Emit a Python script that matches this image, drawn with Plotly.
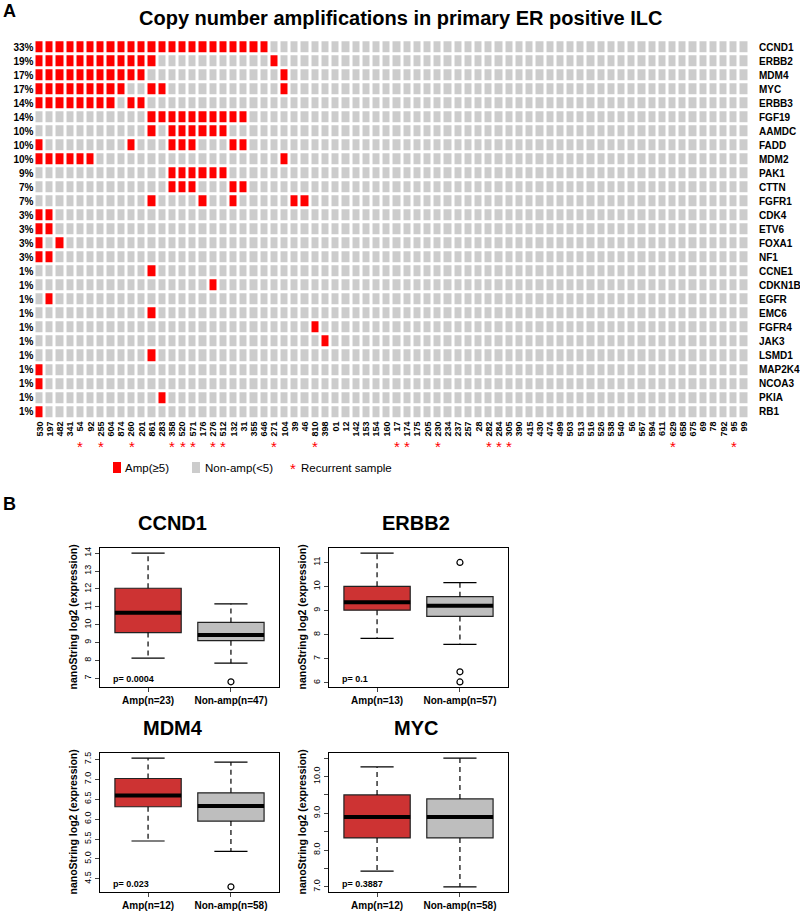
import plotly.graph_objects as go

W, H = 800, 916

# ---------------- data: panel A ----------------
genes = ["CCND1", "ERBB2", "MDM4", "MYC", "ERBB3", "FGF19", "AAMDC", "FADD", "MDM2",
         "PAK1", "CTTN", "FGFR1", "CDK4", "ETV6", "FOXA1", "NF1", "CCNE1", "CDKN1B",
         "EGFR", "EMC6", "FGFR4", "JAK3", "LSMD1", "MAP2K4", "NCOA3", "PKIA", "RB1"]
pct_labels = ["33%", "19%", "17%", "17%", "14%", "14%", "10%", "10%", "10%", "9%", "7%",
              "7%", "3%", "3%", "3%", "3%", "1%", "1%", "1%", "1%", "1%", "1%", "1%",
              "1%", "1%", "1%", "1%"]
samples = ["530", "197", "482", "341", "54", "92", "255", "604", "874", "260", "201", "861",
           "283", "358", "520", "571", "176", "276", "512", "132", "31", "355", "646", "271",
           "104", "39", "46", "810", "398", "01", "12", "142", "153", "154", "160", "17",
           "174", "175", "205", "230", "234", "237", "257", "28", "282", "284", "305", "390",
           "415", "430", "474", "499", "503", "513", "516", "526", "538", "540", "56", "567",
           "594", "611", "629", "658", "675", "69", "78", "792", "95", "99"]
recurrent = ["54", "255", "260", "358", "520", "571", "276", "512", "271", "810", "17",
             "174", "230", "282", "284", "305", "629", "95"]
amplified = [
    ["530", "197", "482", "341", "54", "92", "255", "604", "874", "260", "201", "861", "283",
     "358", "520", "571", "176", "276", "512", "132", "31", "355", "646"],          # CCND1
    ["530", "197", "482", "341", "54", "92", "255", "604", "874", "260", "201", "861", "271"],
    ["530", "197", "482", "341", "54", "92", "255", "604", "874", "260", "201", "104"],
    ["530", "197", "482", "341", "54", "92", "255", "604", "874", "861", "283", "104"],
    ["530", "197", "482", "341", "54", "92", "255", "604", "260", "201"],
    ["861", "283", "358", "520", "571", "176", "276", "512", "132", "31"],
    ["861", "358", "520", "571", "176", "276", "512"],
    ["530", "260", "358", "520", "571", "132", "31"],
    ["530", "197", "482", "341", "54", "92", "104"],
    ["358", "520", "571", "176", "276", "512"],
    ["358", "520", "571", "132", "31"],
    ["861", "176", "132", "39", "46"],
    ["530", "197"], ["530", "197"], ["530", "482"], ["530", "197"],
    ["861"], ["276"], ["197"], ["861"], ["810"], ["398"], ["861"], ["530"], ["530"],
    ["283"], ["530"],
]

# ---------------- data: panel B ----------------
box_genes = ["CCND1", "ERBB2", "MDM4", "MYC"]
amp_n = [23, 13, 12, 12]
non_n = [47, 57, 58, 58]
p_values = ["0.0004", "0.1", "0.023", "0.3887"]
amp_lower = [8.13, 7.85, 5.45, 7.43]
amp_q1 = [9.56, 9.02, 6.31, 8.33]
amp_median = [10.67, 9.35, 6.59, 8.90]
amp_q3 = [12.04, 10.01, 7.02, 9.50]
amp_upper = [14.0, 11.39, 7.53, 10.26]
amp_outliers = [[], [], [], []]
non_lower = [7.85, 7.6, 5.19, 7.0]
non_q1 = [9.11, 8.76, 5.95, 8.33]
non_median = [9.43, 9.2, 6.33, 8.90]
non_q3 = [10.13, 9.58, 6.66, 9.39]
non_upper = [11.17, 10.16, 7.43, 10.5]
non_outliers = [[6.81], [11.0, 6.46, 6.04], [4.30], []]
y_ticks = [[7, 8, 9, 10, 11, 12, 13, 14], [6, 7, 8, 9, 10, 11],
           [4.5, 5.0, 5.5, 6.0, 6.5, 7.0, 7.5],
           [7.0, 7.5, 8.0, 8.5, 9.0, 9.5, 10.0, 10.5]]
y_ticktext = [["7", "8", "9", "10", "11", "12", "13", "14"], ["6", "7", "8", "9", "10", "11"],
              ["4.5", "5.0", "5.5", "6.0", "6.5", "7.0", "7.5"],
              ["7.0", "", "8.0", "", "9.0", "", "10.0", ""]]
y_ranges = [[6.52, 14.29], [5.83, 11.60], [4.17, 7.66], [6.86, 10.64]]

RED = "#FF0000"
GREY = "#CCCCCC"
AMP_FILL = "#CD3333"
NON_FILL = "#BEBEBE"
FONT = "Liberation Sans, Arial, sans-serif"


def fx(a):
    return a / W


def fy(b):
    return 1 - b / H


fig = go.Figure()

# ---------------- heatmap ----------------
z = [[1 if s in amp else 0 for s in samples] for amp in amplified]
fig.add_trace(go.Heatmap(
    z=z, x=list(range(len(samples))), y=list(range(len(genes))),
    colorscale=[[0, GREY], [1, RED]], zmin=0, zmax=1, showscale=False,
    xgap=3, ygap=3, hoverinfo="skip", xaxis="x", yaxis="y"))

layout = dict(
    width=W, height=H, margin=dict(l=0, r=0, t=0, b=0, autoexpand=False),
    paper_bgcolor="white", plot_bgcolor="white", showlegend=False,
    font=dict(family=FONT, color="black"),
    xaxis=dict(domain=[fx(34.5), fx(749.2)], range=[-0.5, len(samples) - 0.5],
               tickmode="array", tickvals=list(range(len(samples))), ticktext=samples,
               tickangle=-90, ticks="", showgrid=False, zeroline=False, showline=False,
               automargin=False,
               tickfont=dict(size=9, family=FONT, weight="bold"), anchor="y"),
    yaxis=dict(domain=[fy(418.8), fy(40.2)], range=[len(genes) - 0.5, -0.5],
               tickmode="array", tickvals=list(range(len(genes))), ticktext=pct_labels,
               ticks="", showgrid=False, zeroline=False, showline=False, automargin=False,
               tickfont=dict(size=10, family=FONT, weight="bold"), anchor="x"),
)

annotations = []
shapes = []
for i, g in enumerate(genes):
    annotations.append(dict(x=fx(757), y=i, xref="paper", yref="y", text=g, showarrow=False,
                            xanchor="left", yanchor="middle",
                            font=dict(size=10, family=FONT, weight="bold")))
for s in recurrent:
    annotations.append(dict(x=samples.index(s), y=fy(446.5), xref="x", yref="paper", text="*",
                            showarrow=False, xanchor="center", yanchor="middle",
                            font=dict(size=15, color=RED, family=FONT)))

# title and panel letters
annotations.append(dict(x=fx(400), y=fy(18), xref="paper", yref="paper",
                        text="Copy number amplifications in primary ER positive ILC",
                        showarrow=False, xanchor="center", yanchor="middle",
                        font=dict(size=20, family=FONT, weight="bold")))
annotations.append(dict(x=fx(1), y=fy(11), xref="paper", yref="paper", text="A",
                        showarrow=False, xanchor="left", yanchor="middle",
                        font=dict(size=18, family=FONT, weight="bold")))
annotations.append(dict(x=fx(1), y=fy(504), xref="paper", yref="paper", text="B",
                        showarrow=False, xanchor="left", yanchor="middle",
                        font=dict(size=18, family=FONT, weight="bold")))

# legend
shapes.append(dict(type="rect", xref="paper", yref="paper", x0=fx(113), x1=fx(121),
                   y0=fy(473), y1=fy(462), fillcolor=RED, line=dict(width=0)))
shapes.append(dict(type="rect", xref="paper", yref="paper", x0=fx(192), x1=fx(200),
                   y0=fy(473), y1=fy(462), fillcolor=GREY, line=dict(width=0)))
for xx, t in [(123, "Amp(≥5)"), (203, "Non-amp(<5)"), (299, "Recurrent sample")]:
    annotations.append(dict(x=fx(xx), y=fy(467.5), xref="paper", yref="paper", text=t,
                            showarrow=False, xanchor="left", yanchor="middle",
                            font=dict(size=11.5, family=FONT)))
annotations.append(dict(x=fx(293), y=fy(468), xref="paper", yref="paper", text="*",
                        showarrow=False, xanchor="center", yanchor="middle",
                        font=dict(size=15, color=RED, family=FONT)))

# ---------------- box plots ----------------
frames = [(100, 279, 548, 687), (329, 508, 548, 687), (100, 279, 753, 892), (329, 508, 753, 892)]
title_x = [172.7, 416, 172.7, 416]

for k in range(4):
    xa = "x%d" % (k + 2)
    ya = "y%d" % (k + 2)
    x0, x1, t0, t1 = frames[k]
    groups = [
        (1, amp_lower[k], amp_q1[k], amp_median[k], amp_q3[k], amp_upper[k], amp_outliers[k], AMP_FILL),
        (2, non_lower[k], non_q1[k], non_median[k], non_q3[k], non_upper[k], non_outliers[k], NON_FILL),
    ]
    for (pos, lo, q1, med, q3, hi, outs, col) in groups:
        fig.add_trace(go.Scatter(x=[pos, pos, None, pos, pos], y=[q3, hi, None, q1, lo],
                                 mode="lines", line=dict(color="black", width=1.2, dash="5px,4px"),
                                 xaxis=xa, yaxis=ya, hoverinfo="skip"))
        fig.add_trace(go.Scatter(x=[pos - 0.2, pos + 0.2, None, pos - 0.2, pos + 0.2],
                                 y=[hi, hi, None, lo, lo], mode="lines",
                                 line=dict(color="black", width=1.2),
                                 xaxis=xa, yaxis=ya, hoverinfo="skip"))
        fig.add_trace(go.Box(x=[pos], q1=[q1], median=[med], q3=[q3], lowerfence=[q1],
                             upperfence=[q3], width=0.8, fillcolor=col,
                             line=dict(color="#222222", width=1.2), boxpoints=False,
                             xaxis=xa, yaxis=ya, hoverinfo="skip"))
        fig.add_trace(go.Scatter(x=[pos - 0.4, pos + 0.4], y=[med, med], mode="lines",
                                 line=dict(color="black", width=4),
                                 xaxis=xa, yaxis=ya, hoverinfo="skip"))
        if outs:
            fig.add_trace(go.Scatter(x=[pos] * len(outs), y=outs, mode="markers",
                                     marker=dict(symbol="circle-open", size=6, color="black",
                                                 line=dict(width=1.2)),
                                     xaxis=xa, yaxis=ya, hoverinfo="skip"))
    layout["xaxis%d" % (k + 2)] = dict(
        domain=[fx(x0), fx(x1)], range=[0.42, 2.58], anchor=ya, automargin=False,
        tickmode="array", tickvals=[1, 2],
        ticktext=["Amp(n=%d)" % amp_n[k], "Non-amp(n=%d)" % non_n[k]],
        ticks="outside", ticklen=4, tickwidth=1, showgrid=False, zeroline=False,
        showline=True, mirror=True, linecolor="black", linewidth=1.3,
        tickfont=dict(size=10, family=FONT, weight="bold"))
    layout["yaxis%d" % (k + 2)] = dict(
        domain=[fy(t1), fy(t0)], range=y_ranges[k], anchor=xa, automargin=False,
        tickmode="array", tickvals=y_ticks[k], ticktext=y_ticktext[k], tickangle=-90,
        ticks="outside", ticklen=4, tickwidth=1, showgrid=False, zeroline=False,
        showline=True, mirror=True, linecolor="black", linewidth=1.3,
        tickfont=dict(size=9, family=FONT))
    annotations.append(dict(x=fx(title_x[k]), y=fy(t0 - 25.5), xref="paper", yref="paper",
                            text=box_genes[k], showarrow=False, xanchor="center",
                            yanchor="middle", font=dict(size=20, family=FONT, weight="bold")))
    annotations.append(dict(x=fx(x0 - 28), y=fy((t0 + t1) / 2), xref="paper", yref="paper",
                            text="nanoString log2 (expression)", textangle=-90,
                            showarrow=False, xanchor="center", yanchor="middle",
                            font=dict(size=10.5, family=FONT, weight="bold")))
    annotations.append(dict(x=fx(x0 + 11), y=fy(t1 - 8), xref="paper", yref="paper",
                            text="p= " + p_values[k], showarrow=False, xanchor="left",
                            yanchor="middle", font=dict(size=9, family=FONT, weight="bold")))

layout["annotations"] = annotations
layout["shapes"] = shapes
fig.update_layout(**layout)
fig.write_html("out.html", config={"displayModeBar": False},
               post_script="document.body.style.margin='0';document.body.style.padding='0';"
                           "document.body.style.overflow='hidden';")
